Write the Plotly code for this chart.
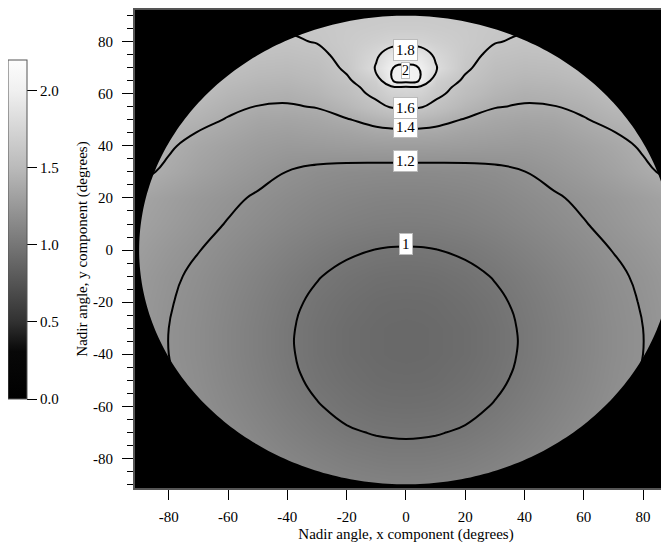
import numpy as np
import plotly.graph_objects as go

# ---------------- data ----------------
# grid nodes (degrees)
x_deg = [-90, -80, -70, -60, -50, -40, -30, -20, -10, -5, 0, 5, 10, 20, 30, 40, 50, 60, 70, 80, 90]
y_deg = [-90, -80, -70, -60, -50, -40, -30, -20, -10, 0, 10, 20, 30, 40, 45, 50, 55, 60, 62.5, 65, 70, 75, 80, 85, 90]

# field values, one row per y node (bottom to top)
row_m90 = [1.33, 1.29, 1.255, 1.22, 1.18, 1.15, 1.12, 1.10, 1.09, 1.086, 1.085, 1.086, 1.09, 1.10, 1.12, 1.15, 1.18, 1.22, 1.255, 1.29, 1.33]
row_m80 = [1.30, 1.26, 1.225, 1.185, 1.145, 1.11, 1.08, 1.055, 1.04, 1.035, 1.035, 1.035, 1.04, 1.055, 1.08, 1.11, 1.145, 1.185, 1.225, 1.26, 1.30]
row_m70 = [1.28, 1.235, 1.20, 1.158, 1.115, 1.075, 1.04, 1.01, 0.994, 0.99, 0.988, 0.99, 0.994, 1.01, 1.04, 1.075, 1.115, 1.158, 1.20, 1.235, 1.28]
row_m60 = [1.265, 1.218, 1.18, 1.135, 1.09, 1.046, 1.006, 0.974, 0.954, 0.95, 0.948, 0.95, 0.954, 0.974, 1.006, 1.046, 1.09, 1.135, 1.18, 1.218, 1.265]
row_m50 = [1.255, 1.207, 1.168, 1.119, 1.071, 1.024, 0.98, 0.948, 0.926, 0.921, 0.92, 0.921, 0.926, 0.948, 0.98, 1.024, 1.071, 1.119, 1.168, 1.207, 1.255]
row_m40 = [1.25, 1.20, 1.161, 1.111, 1.061, 1.012, 0.967, 0.932, 0.912, 0.906, 0.903, 0.906, 0.912, 0.932, 0.967, 1.012, 1.061, 1.111, 1.161, 1.20, 1.25]
row_m30 = [1.25, 1.20, 1.161, 1.111, 1.061, 1.012, 0.967, 0.932, 0.912, 0.906, 0.903, 0.906, 0.912, 0.932, 0.967, 1.012, 1.061, 1.111, 1.161, 1.20, 1.25]
row_m20 = [1.255, 1.207, 1.168, 1.119, 1.071, 1.024, 0.98, 0.948, 0.926, 0.921, 0.92, 0.921, 0.926, 0.948, 0.98, 1.024, 1.071, 1.119, 1.168, 1.207, 1.255]
row_m10 = [1.265, 1.218, 1.18, 1.135, 1.09, 1.046, 1.006, 0.974, 0.954, 0.95, 0.948, 0.95, 0.954, 0.974, 1.006, 1.046, 1.09, 1.135, 1.18, 1.218, 1.265]
row_0 = [1.29, 1.243, 1.203, 1.161, 1.121, 1.082, 1.047, 1.016, 0.998, 0.993, 0.992, 0.993, 0.998, 1.016, 1.047, 1.082, 1.121, 1.161, 1.203, 1.243, 1.29]
row_10 = [1.32, 1.277, 1.234, 1.194, 1.157, 1.123, 1.093, 1.07, 1.055, 1.052, 1.05, 1.052, 1.055, 1.07, 1.093, 1.123, 1.157, 1.194, 1.234, 1.277, 1.32]
row_20 = [1.341, 1.299, 1.258, 1.222, 1.187, 1.156, 1.129, 1.109, 1.096, 1.093, 1.092, 1.093, 1.096, 1.109, 1.129, 1.156, 1.187, 1.222, 1.258, 1.299, 1.341]
row_30 = [1.43, 1.375, 1.32, 1.275, 1.235, 1.198, 1.172, 1.158, 1.152, 1.15, 1.15, 1.15, 1.152, 1.158, 1.172, 1.198, 1.235, 1.275, 1.32, 1.375, 1.43]
row_40 = [1.47, 1.415, 1.36, 1.32, 1.285, 1.265, 1.27, 1.28, 1.287, 1.29, 1.29, 1.29, 1.287, 1.28, 1.27, 1.265, 1.285, 1.32, 1.36, 1.415, 1.47]
row_45 = [1.49, 1.44, 1.395, 1.355, 1.315, 1.30, 1.315, 1.33, 1.36, 1.365, 1.365, 1.365, 1.36, 1.33, 1.315, 1.30, 1.315, 1.355, 1.395, 1.44, 1.49]
row_50 = [1.51, 1.47, 1.44, 1.39, 1.35, 1.34, 1.355, 1.39, 1.445, 1.468, 1.47, 1.468, 1.445, 1.39, 1.355, 1.34, 1.35, 1.39, 1.44, 1.47, 1.51]
row_55 = [1.53, 1.50, 1.48, 1.43, 1.395, 1.39, 1.405, 1.47, 1.56, 1.61, 1.615, 1.61, 1.56, 1.47, 1.405, 1.39, 1.395, 1.43, 1.48, 1.50, 1.53]
row_60 = [1.56, 1.54, 1.52, 1.47, 1.44, 1.425, 1.46, 1.53, 1.635, 1.71, 1.72, 1.71, 1.635, 1.53, 1.46, 1.425, 1.44, 1.47, 1.52, 1.54, 1.56]
row_62 = [1.575, 1.555, 1.535, 1.49, 1.46, 1.45, 1.48, 1.55, 1.66, 1.76, 1.78, 1.76, 1.66, 1.55, 1.48, 1.45, 1.46, 1.49, 1.535, 1.555, 1.575]
row_65 = [1.59, 1.57, 1.55, 1.51, 1.48, 1.47, 1.50, 1.58, 1.69, 1.99, 2.06, 1.99, 1.69, 1.58, 1.50, 1.47, 1.48, 1.51, 1.55, 1.57, 1.59]
row_70 = [1.62, 1.60, 1.58, 1.55, 1.52, 1.51, 1.535, 1.62, 1.82, 1.995, 2.03, 1.995, 1.82, 1.62, 1.535, 1.51, 1.52, 1.55, 1.58, 1.60, 1.62]
row_75 = [1.65, 1.63, 1.61, 1.59, 1.56, 1.55, 1.57, 1.64, 1.77, 1.90, 1.92, 1.90, 1.77, 1.64, 1.57, 1.55, 1.56, 1.59, 1.61, 1.63, 1.65]
row_80 = [1.68, 1.66, 1.64, 1.62, 1.60, 1.585, 1.605, 1.65, 1.70, 1.73, 1.74, 1.73, 1.70, 1.65, 1.605, 1.585, 1.60, 1.62, 1.64, 1.66, 1.68]
row_85 = [1.70, 1.68, 1.66, 1.64, 1.62, 1.61, 1.62, 1.645, 1.66, 1.67, 1.67, 1.67, 1.66, 1.645, 1.62, 1.61, 1.62, 1.64, 1.66, 1.68, 1.70]
row_90 = [1.71, 1.69, 1.67, 1.65, 1.63, 1.62, 1.62, 1.63, 1.64, 1.64, 1.64, 1.64, 1.64, 1.63, 1.62, 1.62, 1.63, 1.65, 1.67, 1.69, 1.71]

z_rows = [row_m90, row_m80, row_m70, row_m60, row_m50, row_m40, row_m30, row_m20, row_m10,
          row_0, row_10, row_20, row_30, row_40, row_45, row_50, row_55, row_60, row_62,
          row_65, row_70, row_75, row_80, row_85, row_90]

disk_radius_deg = 90
contour_start, contour_end, contour_step = 1.0, 2.0, 0.2
label_texts = ["1", "1.2", "1.4", "1.6", "1.8", "2"]
label_y = [2.5, 34.3, 47.4, 54.6, 76.8, 68.8]
axis_tickvals = [-80, -60, -40, -20, 0, 20, 40, 60, 80]
axis_ticktext = ["-80", "-60", "-40", "-20", "0", "20", "40", "60", "80"]
cbar_ticks = [0.0, 0.5, 1.0, 1.5, 2.0]

FONT = "Liberation Serif"

gray_scale = [
    [0.0, "rgb(0,0,0)"],
    [0.14, "rgb(8,8,8)"],
    [0.23, "rgb(50,50,50)"],
    [0.4545, "rgb(118,118,118)"],
    [0.682, "rgb(186,186,186)"],
    [0.909, "rgb(240,240,240)"],
    [1.0, "rgb(253,253,253)"],
]

# the page places the figure 8 px from the window's top-left corner
PAGE_OFFSET = 8
L, T, B = 135 - PAGE_OFFSET, 10 - PAGE_OFFSET, 548 - (488 - PAGE_OFFSET)
PLOT_W = 669 - L
PLOT_H = 548 - T - B

fig = go.Figure()

fig.add_trace(go.Heatmap(
    x=x_deg, y=y_deg, z=z_rows, zsmooth="best", zmin=0, zmax=2.2,
    colorscale=gray_scale, hoverinfo="skip",
    colorbar=dict(
        x=(0 - L) / PLOT_W, xanchor="left", xref="paper",
        y=(PLOT_H - (229.5 - 10)) / PLOT_H, yanchor="middle",
        thickness=19, thicknessmode="pixels",
        len=339, lenmode="pixels",
        xpad=0, ypad=0,
        outlinewidth=1, outlinecolor="#555",
        ticks="outside", ticklen=10, tickwidth=1, tickcolor="black",
        tickvals=cbar_ticks, tickformat=".1f",
        tickfont=dict(family=FONT, size=15, color="black"),
    ),
))

fig.add_trace(go.Contour(
    x=x_deg, y=y_deg, z=z_rows,
    autocontour=False,
    contours=dict(start=contour_start, end=contour_end, size=contour_step,
                  coloring="none", showlabels=False),
    line=dict(color="black", width=2, smoothing=1.3),
    showscale=False, hoverinfo="skip",
))

# black outside the circular field of view
theta = np.linspace(0, 2 * np.pi, 361)
circle = " L ".join(f"{disk_radius_deg*np.cos(t):.3f},{disk_radius_deg*np.sin(t):.3f}" for t in theta)
mask_path = "M -130,-130 L 130,-130 L 130,130 L -130,130 Z M " + circle + " Z"
fig.add_shape(type="path", path=mask_path, xref="x", yref="y",
              fillcolor="black", fillrule="evenodd", line=dict(width=0), layer="above")

for txt, yy in zip(label_texts, label_y):
    fig.add_annotation(x=0, y=yy, xref="x", yref="y", text=txt, showarrow=False,
                       font=dict(family=FONT, size=15 if txt != "2" else 14, color="black"),
                       bgcolor="white", bordercolor="#bbb", borderwidth=1,
                       borderpad=2 if txt != "2" else 0)

axis_common = dict(showgrid=False, zeroline=False, showline=True, linecolor="#555", linewidth=2,
                   ticks="outside", tickcolor="black", tickwidth=1,
                   tickmode="array", tickvals=axis_tickvals, ticktext=axis_ticktext,
                   tickfont=dict(family=FONT, size=15, color="black"))

x_right = -91.4 + PLOT_W / 2.964
fig.update_xaxes(range=[-91.4, x_right], ticklen=10, mirror=True,
                 ticklabelstandoff=4,
                 title=dict(text="Nadir angle, x component (degrees)",
                            font=dict(family=FONT, size=15, color="black"), standoff=4),
                 **axis_common)
fig.update_yaxes(range=[-91.4, 92.2], ticklen=11,
                 ticklabelstandoff=6,
                 minor=dict(dtick=5, tick0=0, ticklen=6, ticks="outside", tickcolor="black", tickwidth=1),
                 title=dict(text="Nadir angle, y component (degrees)",
                            font=dict(family=FONT, size=15, color="black"), standoff=2),
                 **axis_common)

fig.update_layout(
    width=669, height=548,
    margin=dict(l=L, r=0, t=T, b=B, autoexpand=False),
    plot_bgcolor="black", paper_bgcolor="white",
    showlegend=False,
)

fig.write_html("out.html")
